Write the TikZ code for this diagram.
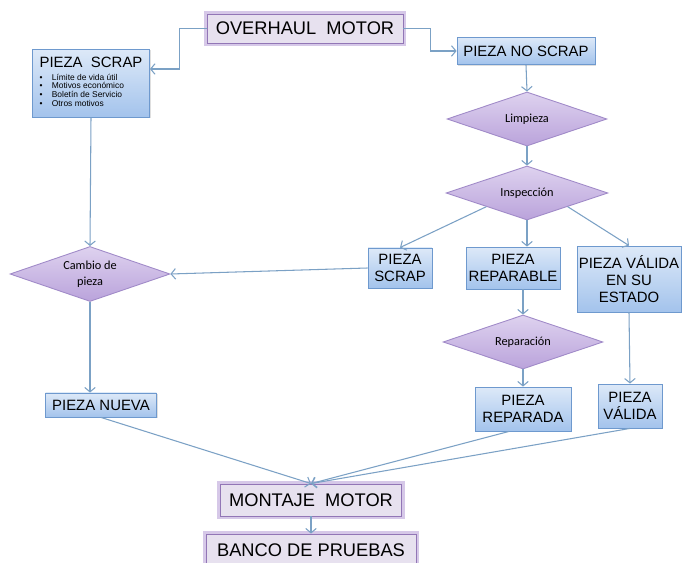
\documentclass[tikz,border=0pt]{standalone}
\usepackage{fontspec}
\setmainfont{Liberation Sans}
\newfontfamily\diafont{Carlito}
\usetikzlibrary{shapes.geometric,arrows.meta,shadows}

\definecolor{linkblue}{HTML}{7BA1C5}
\definecolor{boxedge}{HTML}{6E99CE}
\definecolor{boxtop}{HTML}{DDE9F8}
\definecolor{boxbot}{HTML}{A3C3EC}
\definecolor{diaedge}{HTML}{A08AC8}
\definecolor{diatop}{HTML}{DED2EF}
\definecolor{diabot}{HTML}{BAA3DB}
\definecolor{lilac}{HTML}{E7E1EF}
\definecolor{lilacedge}{HTML}{9276B6}
\definecolor{glow}{HTML}{D6C8E8}

\newcommand{\itm}[1]{\makebox[7pt][l]{\textbullet}#1}

\tikzset{
    bluebox/.style={draw=boxedge, line width=0.5pt, top color=boxtop, bottom color=boxbot,
        align=center, inner sep=0pt, font=\fontsize{8.5}{9.5}\selectfont,
        drop shadow={opacity=0.25, shadow xshift=0.8pt, shadow yshift=-0.8pt}},
    lilacbox/.style={draw=lilacedge, line width=0.5pt, fill=lilac,
        preaction={draw=glow, line width=3.5pt}, inner sep=0pt,
        font=\fontsize{10.4}{12}\selectfont},
    decision/.style={diamond, aspect=3, draw=diaedge, line width=0.5pt, top color=diatop,
        bottom color=diabot, inner sep=0pt, align=center,
        font=\diafont\fontsize{7}{9.4}\selectfont},
    link/.style={draw=linkblue, line width=0.6pt, -{Straight Barb[length=2.5pt,width=6pt]}},
}

\begin{document}
\begin{tikzpicture}[x=0.02cm, y=-0.02cm]
    \path[use as bounding box, fill=white] (0, 0) rectangle (683, 563);
    \clip (0, 0) rectangle (683, 563);

    \node[lilacbox, minimum width=3.92cm, minimum height=0.58cm] (overhaul) at (305, 28.5) {OVERHAUL\ \ MOTOR};

    \node[bluebox, minimum width=2.34cm, minimum height=1.36cm, font=\fontsize{4.8}{5}\selectfont] (scrapA) at (91, 83) {%
        \begin{tabular}{@{}l@{}}
            \fontsize{8.5}{10}\selectfont PIEZA\ \ SCRAP\\[2.2pt]
            \itm{Límite de vida útil}\\
            \itm{Motivos económico}\\
            \itm{Boletín de Servicio}\\
            \itm{Otros motivos}
        \end{tabular}};

    \node[bluebox, minimum width=2.76cm, minimum height=0.54cm] (noscrap) at (526, 51) {PIEZA NO SCRAP};

    \node[decision, minimum width=3.2cm, minimum height=1.08cm] (limpieza) at (527, 119) {Limpieza};
    \node[decision, minimum width=3.24cm, minimum height=1.08cm] (inspeccion) at (527, 193) {Inspección};

    \node[bluebox, minimum width=1.28cm, minimum height=0.8cm] (scrapB) at (400, 268) {PIEZA\\SCRAP};
    \node[bluebox, minimum width=1.88cm, minimum height=0.84cm] (reparable) at (513, 268) {PIEZA\\REPARABLE};
    \node[bluebox, minimum width=2.08cm, minimum height=1.32cm] (validaA) at (629, 279) {PIEZA VÁLIDA\\EN SU\\ESTADO};

    \node[decision, minimum width=3.2cm, minimum height=1.1cm] (cambio) at (90, 274) {Cambio de\\pieza};
    \node[decision, minimum width=3.2cm, minimum height=1.08cm] (reparacion) at (523, 342) {Reparación};

    \node[bluebox, minimum width=2.22cm, minimum height=0.48cm] (nueva) at (101, 405) {PIEZA NUEVA};
    \node[bluebox, minimum width=1.92cm, minimum height=0.88cm] (reparada) at (523, 409) {PIEZA\\REPARADA};
    \node[bluebox, minimum width=1.28cm, minimum height=0.88cm] (validaB) at (630, 406) {PIEZA\\VÁLIDA};

    \node[lilacbox, minimum width=3.62cm, minimum height=0.64cm] (montaje) at (311, 500) {MONTAJE\ \ MOTOR};
    \node[lilacbox, minimum width=4.2cm, minimum height=0.64cm] (banco) at (311, 550) {BANCO DE PRUEBAS};

    \draw[link] (overhaul.west) -- ++(-27, 0) |- ([yshift=0.28cm]scrapA.east);
    \draw[link] (overhaul.east) -- ++(27, 0) |- (noscrap.west);
    \draw[link] (noscrap.south) -- (limpieza.north);
    \draw[link] (limpieza.south) -- (inspeccion.north);

    \draw[link] (inspeccion.south west) -- (scrapB.north);
    \draw[link] (inspeccion.south) -- (inspeccion.south |- reparable.north);
    \draw[link] (inspeccion.south east) -- (validaA.north);

    \draw[link] (scrapB.west) -- (cambio.east);
    \draw[link] (scrapA.south) -- (cambio.north);
    \draw[link] (cambio.south) -- (cambio.south |- nueva.north);

    \draw[link] (reparacion.north |- reparable.south) -- (reparacion.north);
    \draw[link] (reparacion.south) -- (reparada.north);
    \draw[link] (validaA.south) -- (validaB.north);

    \draw[link] (nueva.south) -- (montaje.north);
    \draw[link] ([xshift=-0.28cm]reparada.south) -- (montaje.north);
    \draw[link] (validaB.south) -- (montaje.north);
    \draw[link] (montaje.south) -- (banco.north);

\end{tikzpicture}
\end{document}
